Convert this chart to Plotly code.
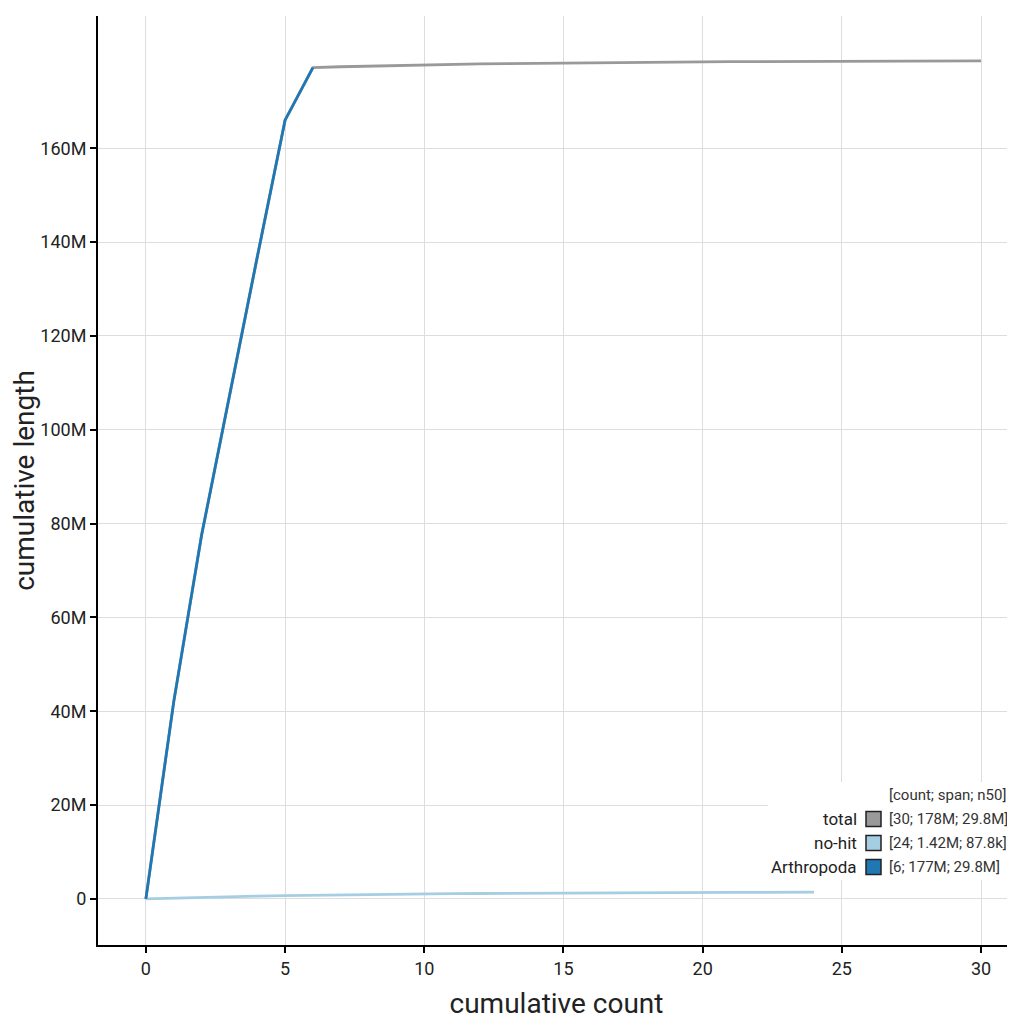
import plotly.graph_objects as go

# ---- data (cumulative length in millions of bp) ----
total_count = list(range(0, 31))
total_len = [0, 42.0, 77.5, 107.3, 136.8, 166.0, 177.2, 177.38, 177.53, 177.67,
             177.795, 177.905, 177.993, 178.068, 178.136, 178.196, 178.251, 178.301,
             178.346, 178.388, 178.428, 178.458, 178.485, 178.509, 178.531, 178.551,
             178.569, 178.585, 178.599, 178.611, 178.62]

nohit_count = list(range(0, 25))
nohit_len = [0, 0.18, 0.33, 0.47, 0.595, 0.705, 0.793, 0.868, 0.936, 0.996, 1.051,
             1.101, 1.146, 1.188, 1.228, 1.258, 1.285, 1.309, 1.331, 1.351, 1.369,
             1.385, 1.399, 1.411, 1.42]

arth_count = list(range(0, 7))
arth_len = [0, 42.0, 77.5, 107.3, 136.8, 166.0, 177.2]

legend_names = ["total", "no-hit", "Arthropoda"]
legend_stats = ["[30; 178M; 29.8M]", "[24; 1.42M; 87.8k]", "[6; 177M; 29.8M]"]
legend_colors = ["#999999", "#a6cee3", "#1f78b4"]
legend_header = "[count; span; n50]"

y_tickvals = [0, 20, 40, 60, 80, 100, 120, 140, 160]
y_ticktext = ["0", "20M", "40M", "60M", "80M", "100M", "120M", "140M", "160M"]
x_tickvals = [0, 5, 10, 15, 20, 25, 30]

FONT = "Roboto"

fig = go.Figure()
fig.add_trace(go.Scatter(x=total_count, y=total_len, mode="lines",
                         line=dict(color=legend_colors[0], width=2.8), hoverinfo="skip"))
fig.add_trace(go.Scatter(x=nohit_count, y=nohit_len, mode="lines",
                         line=dict(color=legend_colors[1], width=2.8), hoverinfo="skip"))
fig.add_trace(go.Scatter(x=arth_count, y=arth_len, mode="lines",
                         line=dict(color=legend_colors[2], width=2.8), hoverinfo="skip"))

OFF = 8  # page body offset
L, R, T, B = 90, 0, 8, 75
W, H = 1007, 1012
pw, ph = W - L - R, H - T - B

def px(xp):
    return (xp - OFF - L) / pw

def py(yp):
    return (H - B - (yp - OFF)) / ph

shapes = []
annotations = []
# legend background
shapes.append(dict(type="rect", xref="paper", yref="paper",
                   x0=px(768), x1=px(1013), y0=py(880), y1=py(782),
                   fillcolor="white", line=dict(width=0), layer="above"))
annotations.append(dict(xref="paper", yref="paper", x=px(1008), y=py(795),
                        text=legend_header, showarrow=False, xanchor="right", yanchor="middle",
                        font=dict(family=FONT, size=15, color="#333333")))
row_y = [819, 843, 867]
for name, stat, col, yy in zip(legend_names, legend_stats, legend_colors, row_y):
    shapes.append(dict(type="rect", xref="paper", yref="paper",
                       x0=px(866), x1=px(881), y0=py(yy + 7.5), y1=py(yy - 7.5),
                       fillcolor=col, line=dict(color="#222222", width=1.5), layer="above"))
    annotations.append(dict(xref="paper", yref="paper", x=px(859), y=py(yy),
                            text=name, showarrow=False, xanchor="right", yanchor="middle",
                            font=dict(family=FONT, size=17, color="#222222")))
    annotations.append(dict(xref="paper", yref="paper", x=px(887), y=py(yy),
                            text=stat, showarrow=False, xanchor="left", yanchor="middle",
                            font=dict(family=FONT, size=15, color="#333333")))

fig.update_layout(
    width=W, height=H,
    margin=dict(l=L, r=R, t=T, b=B, autoexpand=False),
    paper_bgcolor="white", plot_bgcolor="white",
    showlegend=False,
    font=dict(family=FONT, color="#222222"),
    shapes=shapes, annotations=annotations,
    xaxis=dict(range=[-1.72, 31.22], tickvals=x_tickvals,
               showline=True, linecolor="black", linewidth=2,
               ticks="outside", ticklen=6, tickwidth=2, tickcolor="black",
               showgrid=True, gridcolor="#dddddd", gridwidth=1, zeroline=False,
               tickfont=dict(family=FONT, size=18, color="#222222"),
               title=dict(text="cumulative count", standoff=17,
                          font=dict(family=FONT, size=28, color="#222222"))),
    yaxis=dict(range=[-9.83, 188.2], tickvals=y_tickvals, ticktext=y_ticktext,
               showline=True, linecolor="black", linewidth=2,
               ticks="outside", ticklen=6, tickwidth=2, tickcolor="black",
               showgrid=True, gridcolor="#dddddd", gridwidth=1, zeroline=False,
               tickfont=dict(family=FONT, size=18, color="#222222"),
               title=dict(text="cumulative length", standoff=12,
                          font=dict(family=FONT, size=28, color="#222222"))),
)

fig.write_html("out.html")
